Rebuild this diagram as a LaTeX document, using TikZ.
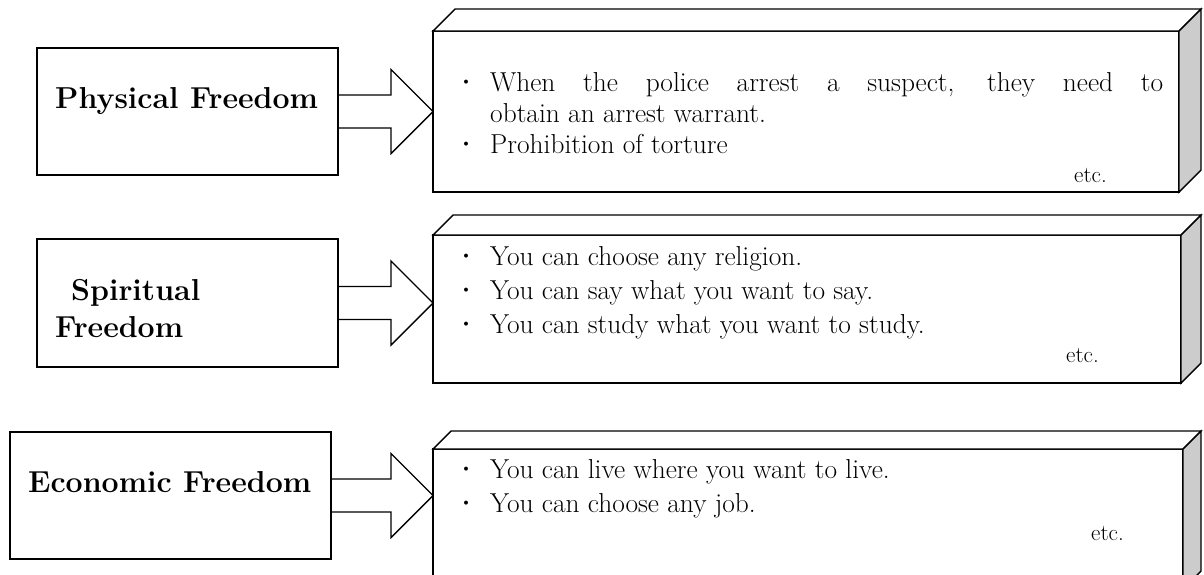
\documentclass[tikz,border=0pt]{standalone}
\usepackage{tikz}
\usetikzlibrary{calc}
\colorlet{sideFace}{black!20}
\newcommand\itm{\hangindent=36pt\hangafter=1\makebox[36pt][l]{\textbf{\textperiodcentered}}}
\tikzset{
  every freedom/.style={draw, line width=1.4pt, inner sep=0pt, outer sep=0pt, anchor=north west},
  freedom/.style 2 args={every freedom, minimum width=#1, minimum height=#2},
  face/.style 2 args={every freedom, fill=white, minimum width=#1, minimum height=#2},
  block arrow/.style={draw, line width=1.4pt, line join=miter},
  title/.style={font=\fontsize{30.3}{37}\selectfont\bfseries, inner sep=0pt, anchor=base west},
  items/.style={font=\fontsize{27.4}{34}\selectfont, text width=709pt, align=justify, inner sep=0pt, anchor=base west},
  etc/.style={font=\fontsize{23}{26}\selectfont, inner sep=0pt, anchor=base west}
}
\begin{document}
\begin{tikzpicture}[x=1pt, y=-1pt]
\useasboundingbox (0,0) rectangle (1204,574);
\clip (0,0) rectangle (1204,574);
% kinds of freedom
\node[freedom={301pt}{127pt}] (physical) at (37,48) {};
\node[freedom={301pt}{128pt}] (spiritual) at (37,239) {};
\node[freedom={321pt}{127pt}] (economic) at (10,432) {};
\node[title] (physicalText) at (55,108) {Physical Freedom};
\node[title, text width=200pt, align=left] (spiritualText) at (55,300) {\hspace*{16pt}Spiritual\\Freedom};
\node[title] (economicText) at (28,492) {Economic Freedom};
% examples
\node[face={746pt}{161pt}] (examples1) at (433,31) {};
\node[face={748pt}{148pt}] (examples2) at (433,235) {};
\node[face={750pt}{140pt}] (examples3) at (433,449) {};
\foreach \ex/\off in {examples1/22, examples2/20, examples3/18} {
  \draw[line width=1.4pt, fill=white] (\ex.north west) -- ++(\off,-\off) -- ($(\ex.north east)+(\off,-\off)$) -- (\ex.north east) -- cycle;
  \draw[line width=1.4pt, fill=sideFace] (\ex.north east) -- ++(\off,-\off) -- ($(\ex.south east)+(\off,-\off)$) -- (\ex.south east) -- cycle;
}
% arrows
\foreach \from/\to in {physical/examples1, spiritual/examples2, economic/examples3} {
  \coordinate (tip) at (\to.west |- \from.east);
  \draw[block arrow] ($(\from.east)+(0,-16.5)$) -- ($(tip)+(-42,-16.5)$) -- ($(tip)+(-42,-42)$) -- (tip)
    -- ($(tip)+(-42,42)$) -- ($(tip)+(-42,16.5)$) -- ($(\from.east)+(0,16.5)$);
}
\node[items, font=\fontsize{27.4}{31}\selectfont] (list1) at (454,91) {\itm When the police arrest a suspect, they need to\linebreak obtain an arrest warrant.\par\itm Prohibition of torture};
\node[items] (list2) at (454,265) {\itm You can choose any religion.\par\itm You can say what you want to say.\par\itm You can study what you want to study.};
\node[items] (list3) at (454,478) {\itm You can live where you want to live.\par\itm You can choose any job.};
\node[etc] (etc1) at (1074,182) {etc.};
\node[etc] (etc2) at (1066,362) {etc.};
\node[etc] (etc3) at (1091,540) {etc.};
\end{tikzpicture}
\end{document}
